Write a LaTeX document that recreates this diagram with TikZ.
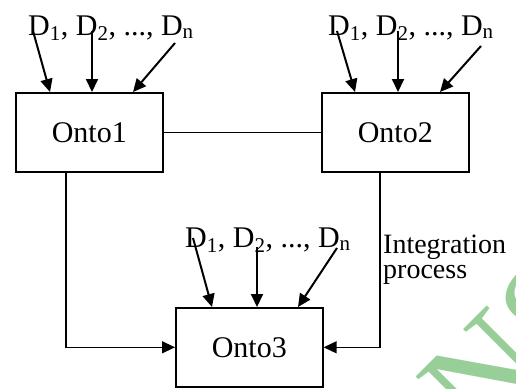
\documentclass[tikz,border=0pt]{standalone}
\usepackage{fontspec}
\setmainfont{Liberation Serif}
\usetikzlibrary{arrows.meta}
\definecolor{wmgreen}{RGB}{152,206,152}
\tikzset{
  box/.style={draw, line width=1.6pt, minimum width=147pt, minimum height=79pt, inner sep=0pt, font=\fontsize{30}{34}\selectfont, anchor=north west},
  feed/.style={line width=2pt, -{Triangle[length=13pt,width=12pt]}},
  link/.style={line width=1.3pt},
  flow/.style={line width=1.3pt, -{Triangle[length=13pt,width=12pt]}},
  dlabel/.style={font=\fontsize{30}{34}\selectfont, anchor=base west, inner sep=0pt},
  note/.style={font=\fontsize{28}{25}\selectfont, anchor=north west, inner sep=0pt, align=left}
}
\begin{document}
\begin{tikzpicture}[x=1pt, y=-1pt]
  \useasboundingbox (0,0) rectangle (516,388);
  % faint watermark lettering in the lower right corner
  \begin{scope}
    \clip (0,0) rectangle (516,388);
    \node[text=wmgreen, rotate=45, font=\fontsize{150}{150}\selectfont, anchor=base west, inner sep=0pt] (wm) at (482,450) {NS};
  \end{scope}
  % ontology boxes
  \node[box] (o1) at (15,92) {Onto1};
  \node[box] (o2) at (321,92) {Onto2};
  \node[box] (o3) at (175,307) {Onto3};
  % data source labels
  \node[dlabel] (d1) at (28,35) {D\textsubscript{1}, D\textsubscript{2}, ..., D\textsubscript{n}};
  \node[dlabel] (d2) at (328,35) {D\textsubscript{1}, D\textsubscript{2}, ..., D\textsubscript{n}};
  \node[dlabel] (d3) at (185,247) {D\textsubscript{1}, D\textsubscript{2}, ..., D\textsubscript{n}};
  % feeds into Onto1
  \coordinate (a1) at (33,31);  \coordinate (a2) at (92,31);  \coordinate (a3) at (175,43);
  \draw[feed] (a1) -- (o1.north west -| 50,0);
  \draw[feed] (a2) -- (o1.north west -| 92,0);
  \draw[feed] (a3) -- (o1.north west -| 133,0);
  % feeds into Onto2
  \coordinate (b1) at (337,31); \coordinate (b2) at (398,31); \coordinate (b3) at (481,46);
  \draw[feed] (b1) -- (o2.north west -| 355,0);
  \draw[feed] (b2) -- (o2.north west -| 398,0);
  \draw[feed] (b3) -- (o2.north west -| 440,0);
  % feeds into Onto3
  \coordinate (c1) at (193,238); \coordinate (c2) at (257,247); \coordinate (c3) at (337,248);
  \draw[feed] (c1) -- (o3.north west -| 212,0);
  \draw[feed] (c2) -- (o3.north west -| 257,0);
  \draw[feed] (c3) -- (o3.north west -| 298,0);
  % mapping between Onto1 and Onto2
  \draw[link] (o1.east) -- (o2.west);
  % integration into Onto3
  \draw[flow] (o1.south west -| 66,0) |- (o3.west);
  \draw[flow] (o2.south west -| 380,0) |- (o3.east);
  \node[note] (int) at (383,235) {Integration\\process};
\end{tikzpicture}
\end{document}
